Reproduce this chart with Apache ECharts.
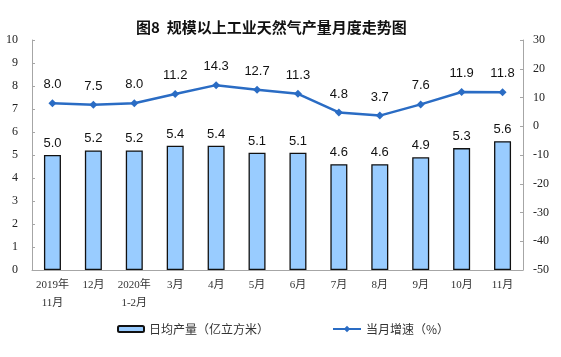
<!DOCTYPE html>
<html><head><meta charset="utf-8">
<script src="https://cdn.jsdelivr.net/npm/echarts@6/dist/echarts.min.js"></script>
<style>html,body{margin:0;padding:0;background:#fff}#c{width:561px;height:357px}</style>
</head><body><div id="c"></div>
<script>
var categories = ['2019年\n11月','12月','2020年\n1-2月','3月','4月','5月','6月','7月','8月','9月','10月','11月'];
var dailyOutput = [5.0,5.2,5.2,5.4,5.4,5.1,5.1,4.6,4.6,4.9,5.3,5.6];
var growthRate = [8.0,7.5,8.0,11.2,14.3,12.7,11.3,4.8,3.7,7.6,11.9,11.8];
var titleText = '图8  规模以上工业天然气产量月度走势图';
var barName = '日均产量（亿立方米）';
var lineName = '当月增速（%）';

var chart = echarts.init(document.getElementById('c'));
var axisFont = {fontFamily:'Liberation Serif, Noto Sans CJK SC', fontSize:12, color:'#222'};
chart.setOption({
  animation:false,
  title:{text:titleText,left:131,top:15,textStyle:{fontFamily:'Noto Sans CJK SC',fontSize:15,fontWeight:'bold',color:'#111'}},
  legend:[
    {data:[barName],left:112,top:318,itemWidth:26,itemHeight:6,textStyle:{fontFamily:'Noto Sans CJK SC',fontSize:12,color:'#333'}},
    {data:[lineName],left:327,top:318,itemWidth:28,itemHeight:8,textStyle:{fontFamily:'Noto Sans CJK SC',fontSize:12,color:'#333'}}
  ],
  grid:{left:32,right:38,top:40,bottom:87},
  xAxis:{type:'category',data:categories,boundaryGap:true,
    axisLine:{lineStyle:{color:'#a6a6a6'}},
    axisTick:{inside:true,length:3,lineStyle:{color:'#a6a6a6'}},
    axisLabel:{fontFamily:'Liberation Serif, Noto Sans CJK SC',fontSize:11,color:'#333',lineHeight:18,margin:6,interval:0}},
  yAxis:[
    {type:'value',min:0,max:10,interval:1,splitLine:{show:false},
      axisLine:{show:true,lineStyle:{color:'#a6a6a6'}},
      axisTick:{show:true,inside:true,length:3,lineStyle:{color:'#a6a6a6'}},
      axisLabel:Object.assign({margin:14},axisFont)},
    {type:'value',min:-50,max:30,interval:10,splitLine:{show:false},
      axisLine:{show:true,lineStyle:{color:'#a6a6a6'}},
      axisTick:{show:true,inside:true,length:3,lineStyle:{color:'#a6a6a6'}},
      axisLabel:Object.assign({margin:10},axisFont)}
  ],
  series:[
    {name:barName,type:'bar',data:dailyOutput,barWidth:17,
      itemStyle:{color:'#99ccff',borderColor:'#111',borderWidth:1.3},
      label:{show:true,position:'top',distance:5,formatter:function(p){return p.value.toFixed(1);},
        fontFamily:'Liberation Sans',fontSize:13,color:'#111'}},
    {name:lineName,type:'line',yAxisIndex:1,data:growthRate,
      symbol:'diamond',symbolSize:8,
      lineStyle:{color:'#2a6cc4',width:2.5},itemStyle:{color:'#2a6cc4'},
      label:{show:true,position:'top',distance:8,formatter:function(p){return p.value.toFixed(1);},
        fontFamily:'Liberation Sans',fontSize:13,color:'#111'}}
  ]
});
</script></body></html>
